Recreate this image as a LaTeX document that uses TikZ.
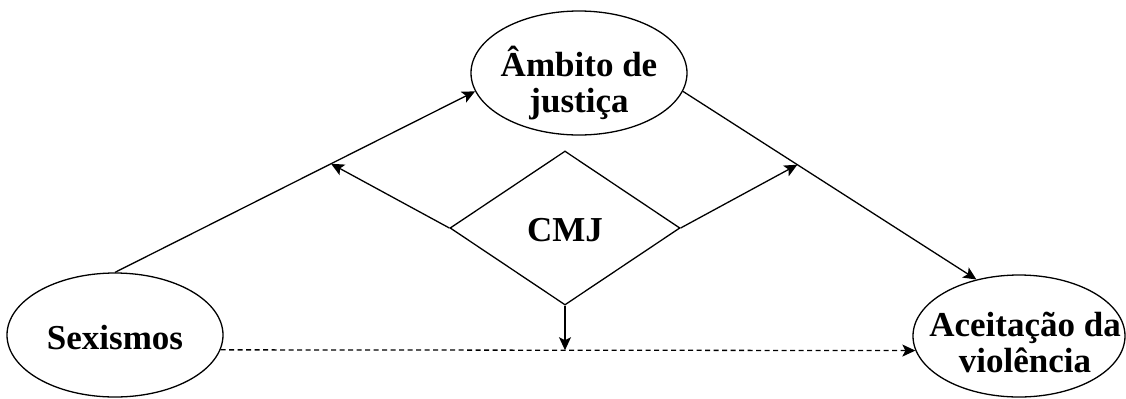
\documentclass[tikz,border=0pt]{standalone}
\usepackage{fontspec}
\setmainfont{Liberation Serif}
\usetikzlibrary{shapes.geometric,arrows.meta}
\tikzset{
  ell/.style={draw, ellipse, line width=0.65pt, inner sep=0pt, minimum width=108pt, minimum height=62pt},
  dia/.style={draw, diamond, line width=0.65pt, inner sep=0pt, minimum width=115pt, minimum height=77pt},
  lbl/.style={font=\fontsize{17.5}{18}\selectfont\bfseries, align=center, inner sep=0pt},
  conn/.style={line width=0.65pt, -{Stealth[length=6.5pt,width=6pt,inset=1.5pt]}},
  dconn/.style={conn, dash pattern=on 2.5pt off 1.75pt}
}
\begin{document}
\begin{tikzpicture}[x=0.5pt,y=-0.5pt]
\useasboundingbox (0,0) rectangle (1126,398);
\node[ell, label={[lbl, yshift=-5pt]center:Âmbito de\\justiça}] (amb) at (579,73) {};
\node[ell, label={[lbl, yshift=-1.5pt]center:Sexismos}] (sex) at (115,335) {};
\node[ell, minimum width=106pt, minimum height=61pt, label={[lbl, xshift=3pt, yshift=-3pt]center:Aceitação da\\violência}] (acc) at (1019,336) {};
\node[dia, label={[lbl, yshift=-1pt]center:CMJ}] (cmj) at (565,228) {};
\draw[conn] (sex.north) -- (amb.190) coordinate[pos=0.6] (m1);
\draw[conn] (amb.350) -- (acc.127) coordinate[pos=0.39] (m2);
\draw[dconn] (sex.352) -- (acc.188) coordinate[pos=0.496] (m3);
\draw[conn] (cmj.west) -- (m1);
\draw[conn] (cmj.east) -- (m2);
\draw[conn] (cmj.south) -- (cmj.south |- m3);
\end{tikzpicture}
\end{document}
